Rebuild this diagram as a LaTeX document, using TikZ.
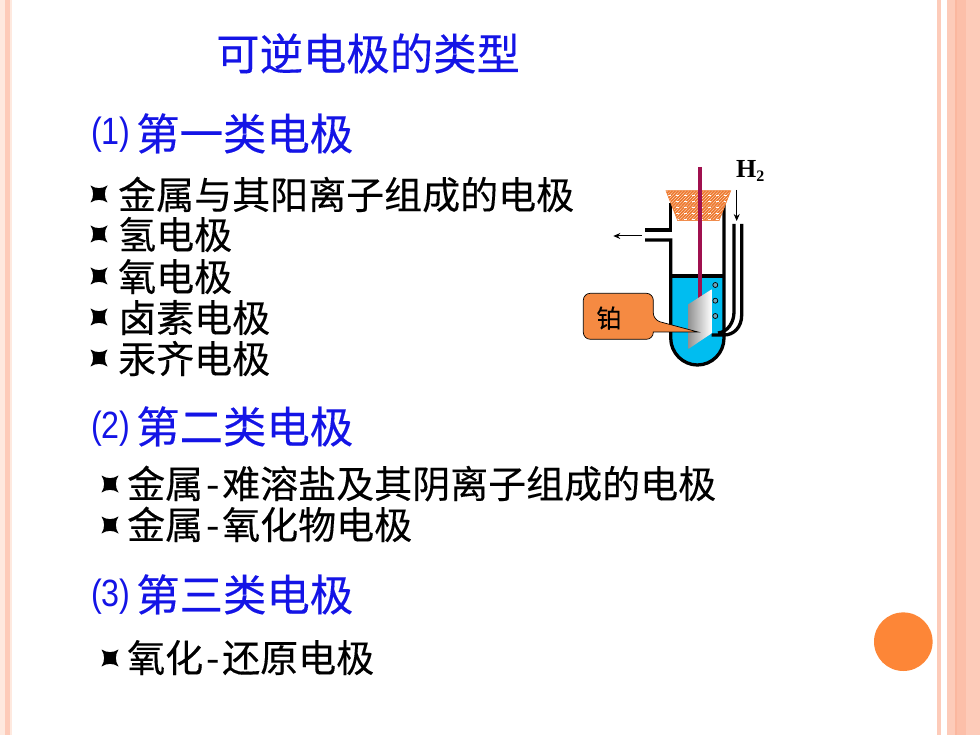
\documentclass[tikz,border=0pt]{standalone}
\usepackage{fontspec}
\setmainfont{Noto Sans CJK SC}[FakeBold=0.25]
\newfontfamily\latinfont{Liberation Sans}
\newfontfamily\timesfont{Liberation Serif}
\usetikzlibrary{arrows.meta}
\definecolor{stripe}{HTML}{FDCBB9}
\definecolor{stripedark}{HTML}{FBB79F}
\definecolor{stripepale}{HTML}{FEE9DF}
\definecolor{headblue}{HTML}{1414E6}
\definecolor{dotorange}{HTML}{FD8637}
\definecolor{liquid}{HTML}{00BDF0}
\definecolor{rod}{HTML}{A0104F}
\definecolor{cork}{HTML}{EE7A30}
\definecolor{callout}{HTML}{F58A42}
\newcommand{\sparkle}[2]{\fill[black] (#1-8.5,#2-8.5) .. controls (#1-3,#2-5) and (#1+3,#2-5) .. (#1+8.5,#2-8.5) .. controls (#1+5,#2-3) and (#1+5,#2+3) .. (#1+8.5,#2+8.5) .. controls (#1+3,#2+5) and (#1-3,#2+5) .. (#1-8.5,#2+8.5) .. controls (#1-5,#2+3) and (#1-5,#2-3) .. cycle;}
\newcommand{\nlabel}[1]{\makebox[48pt][l]{\hspace{3pt}\raisebox{5pt}{\scalebox{0.85}[1]{\latinfont\fontsize{38}{38}\selectfont(#1)}}}}
\newcommand{\dashchar}{\makebox[19pt]{-}}
\tikzset{
  headline/.style={anchor=base west,inner sep=0pt,text=headblue,font=\fontsize{43.4}{44}\selectfont},
  itemline/.style={anchor=base west,inner sep=0pt,text=black,font=\fontsize{38}{38}\selectfont},
  wall/.style={draw=black,line width=3.3pt},
  thinarrow/.style={draw=black,line width=1pt,-{Stealth[length=7pt,width=6pt]}},
}
\begin{document}
\begin{tikzpicture}[x=1pt,y=-1pt]
\useasboundingbox (0,0) rectangle (980,735);
\fill[white] (0,0) rectangle (980,735);
% side stripes
\fill[stripepale] (0,0) rectangle (5,735);
\fill[stripe] (5,0) rectangle (10,735);
\fill[stripepale] (10,0) rectangle (11.7,735);
\fill[stripe] (937.3,0) rectangle (941.3,735);
\fill[stripe] (947.3,0) rectangle (980,735);
\fill[stripedark] (954.5,0) rectangle (957.3,735);
\fill[stripedark!60!stripe] (957.3,0) rectangle (965.5,735);
\fill[dotorange] (903.3,641.7) circle (29.3);
% texts
\node[headline] (title) at (216,70) {可逆电极的类型};
\node[headline] (h1) at (88,150) {\nlabel{1}第一类电极};
\node[headline] (h2) at (88,443) {\nlabel{2}第二类电极};
\node[headline] (h3) at (88,611) {\nlabel{3}第三类电极};
\sparkle{99}{194}
\sparkle{99}{234}
\sparkle{99}{276}
\sparkle{99}{317}
\sparkle{99}{358}
\sparkle{110}{484}
\sparkle{110}{525}
\sparkle{110}{658}
\node[itemline] (a1) at (118,209) {金属与其阳离子组成的电极};
\node[itemline] (a2) at (118,249) {氢电极};
\node[itemline] (a3) at (118,291) {氧电极};
\node[itemline] (a4) at (118,332) {卤素电极};
\node[itemline] (a5) at (118,373) {汞齐电极};
\node[itemline] (b1) at (127,498) {金属\dashchar 难溶盐及其阴离子组成的电极};
\node[itemline] (b2) at (127,539) {金属\dashchar 氧化物电极};
\node[itemline] (c1) at (127,672) {氧化\dashchar 还原电极};
% cell
\fill[liquid] (670.7,276) -- (724,276) -- (724,338) .. controls (724,353) and (712,365) .. (697.35,365) .. controls (683,365) and (670.7,353) .. (670.7,338) -- cycle;
\draw[wall] (670.7,203) -- (670.7,230) -- (645,230);
\draw[wall] (645,240) -- (670.7,240) -- (670.7,338) .. controls (670.7,353) and (683,365) .. (697.35,365) .. controls (712,365) and (724,353) .. (724,338) -- (724,203);
\draw[wall] (670.7,276) -- (724,276);
\draw[wall] (734,224) -- (734,312) .. controls (734,322) and (728,332) .. (718,333);
\draw[wall] (741.7,224) -- (741.7,315) .. controls (741.7,327) and (734,335) .. (724,335) -- (711.7,335);
\foreach \yy in {285,300.7,316}{\draw[fill=gray!60!cyan,line width=.7pt] (715.3,\yy) circle (2.5);}
\fill[white] (666,190.7) -- (730.7,190.7) -- (719,220.7) -- (677.7,220.7) -- cycle;
\begin{scope}
\clip (666,190.7) -- (730.7,190.7) -- (719,220.7) -- (677.7,220.7) -- cycle;
\foreach \xx in {640,643,...,760}{\draw[cork,line width=1.7pt] (\xx,222) -- (\xx+30,190);}
\foreach \yy in {195,201,...,219}{\draw[white,line width=.7pt,dash pattern=on 3pt off 5pt] (660,\yy) -- (735,\yy);}
\end{scope}
\draw[cork,line width=.6pt] (666,190.7) -- (730.7,190.7) -- (719,220.7) -- (677.7,220.7) -- cycle;
\draw[rod,line width=3.3pt] (700,167) -- (700,300);
\shade[left color=gray!85,right color=white] (688.3,304.3) -- (711.7,289.3) -- (711.7,333.3) -- (688.3,349) -- cycle;
\coordinate (outS) at (641.7,236);\coordinate (outE) at (613.3,236);
\draw[thinarrow] (outS) -- (outE);
\coordinate (inS) at (736.7,190);\coordinate (inE) at (736.7,221);
\draw[thinarrow] (inS) -- (inE);
\node[anchor=base west,inner sep=0pt,font=\timesfont\bfseries\fontsize{26}{26}\selectfont] (gas) at (736,178) {H\raisebox{-4pt}{\fontsize{16}{16}\selectfont 2}};
% callout
\draw[fill=callout,line width=.7pt,rounded corners=7pt] (583.3,293.3) -- (653.3,293.3) -- (653.3,320) [sharp corners] -- (698,332) -- (653.3,332) [rounded corners=7pt] -- (653.3,339.3) -- (583.3,339.3) -- cycle;
\node[inner sep=0pt,font=\fontsize{25}{25}\selectfont] (pt) at (609,318) {铂};
\end{tikzpicture}
\end{document}
